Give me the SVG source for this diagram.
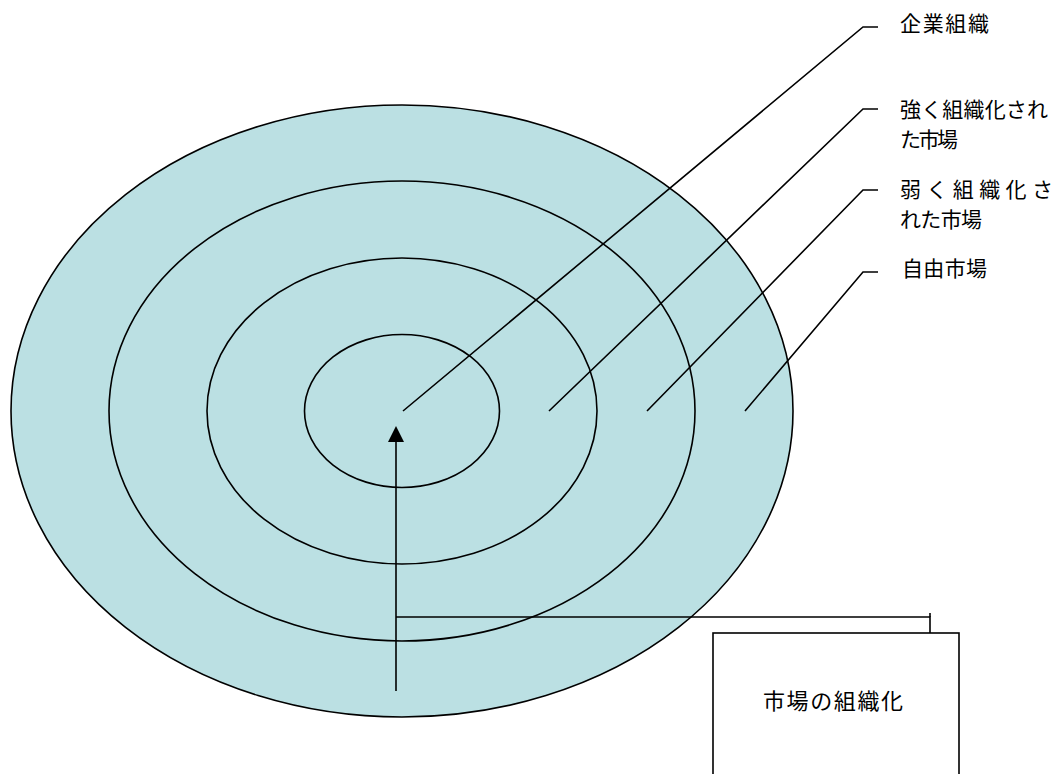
<svg xmlns="http://www.w3.org/2000/svg" width="1054" height="774" viewBox="0 0 1054 774">
  <defs>
    <style>
      .ring { fill: none; stroke: #000; stroke-width: 1.6; }
      .outer { fill: #BBE0E3; }
      .line { fill: none; stroke: #000; stroke-width: 1.6; }
      .lbl { font-family: "Noto Sans CJK JP", "Noto Sans", sans-serif; font-size: 21px; fill: #000; }
      .box-lbl { font-size: 22px; }
    </style>
  </defs>
  <rect x="0" y="0" width="1054" height="774" fill="#fff"/>

  <g id="rings">
    <ellipse cx="402" cy="411" rx="391" ry="306" class="ring outer"/>
    <ellipse cx="402" cy="411" rx="293" ry="230" class="ring"/>
    <ellipse cx="402" cy="411" rx="195" ry="153" class="ring"/>
    <ellipse cx="402" cy="411" rx="97.5" ry="76.5" class="ring"/>
  </g>

  <g id="connectors">
    <polyline class="line" points="403,411 863,27 878,27"/>
    <polyline class="line" points="549,411 863,109 878,109"/>
    <polyline class="line" points="647,411 863,190 878,190"/>
    <polyline class="line" points="745,411 863,272 878,272"/>
    <line class="line" x1="396" y1="691" x2="396" y2="442"/>
    <path d="M396,426 L388,442 L404,442 Z" fill="#000"/>
    <polyline class="line" points="396,617 930,617 930,633"/>
    <line class="line" x1="930" y1="613" x2="930" y2="617"/>
  </g>

  <g id="label-kigyo">
    <text class="lbl" x="900" y="31" textLength="89" lengthAdjust="spacing">企業組織</text>
  </g>
  <g id="label-tsuyoku">
    <text class="lbl" x="900" y="117" textLength="148" lengthAdjust="spacing">強く組織化され</text>
    <text class="lbl" x="900" y="147" textLength="58" lengthAdjust="spacing">た市場</text>
  </g>
  <g id="label-yowaku">
    <text class="lbl" x="900" y="197" textLength="153" lengthAdjust="spacing">弱く組織化さ</text>
    <text class="lbl" x="900" y="227" textLength="82" lengthAdjust="spacing">れた市場</text>
  </g>
  <g id="label-jiyu">
    <text class="lbl" x="902" y="276" textLength="85" lengthAdjust="spacing">自由市場</text>
  </g>

  <g id="box-soshikika">
    <rect x="713" y="633" width="246" height="170" fill="#fff" stroke="#000" stroke-width="1.6"/>
    <text class="lbl box-lbl" x="763" y="709" textLength="140" lengthAdjust="spacing">市場の組織化</text>
  </g>
</svg>
